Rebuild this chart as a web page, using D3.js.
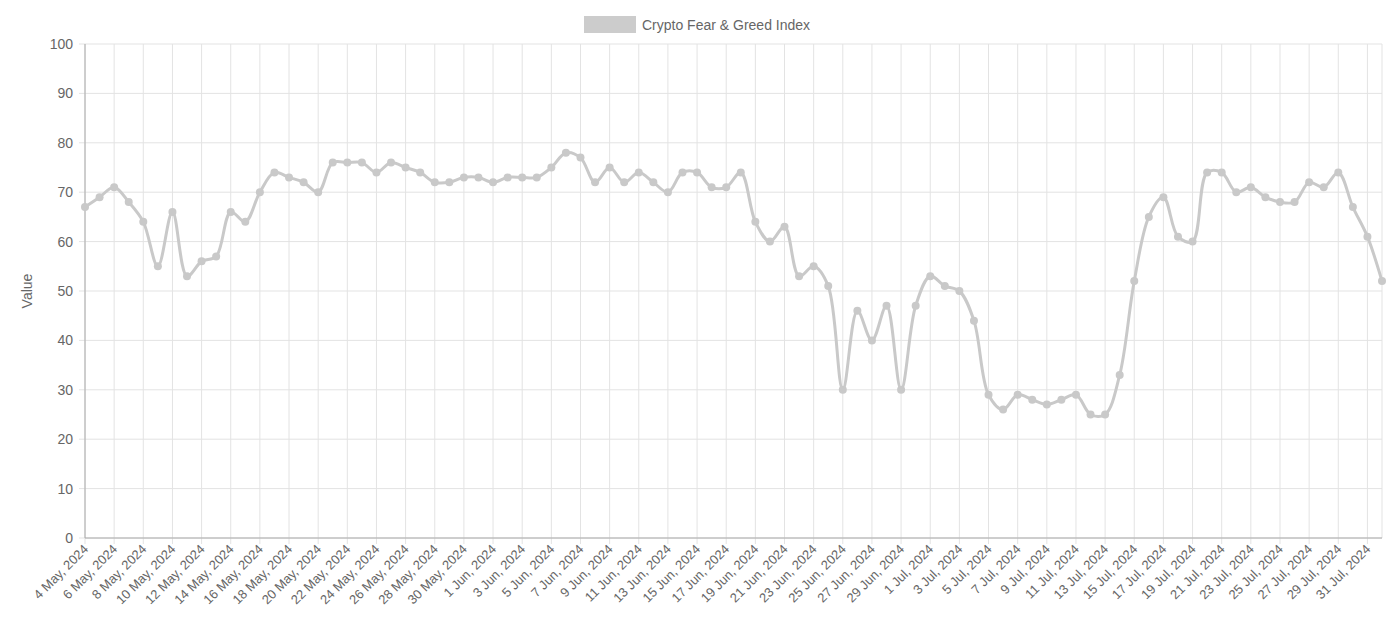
<!DOCTYPE html><html><head><meta charset="utf-8"><script src="https://cdn.jsdelivr.net/npm/d3@7"></script>
<style>body{margin:0;background:#fff;font-family:"Liberation Sans",Arial,sans-serif}</style></head><body><svg id="c" width="1400" height="637"></svg>
<script>
const startDate = "2024-05-04";
const values = [67,69,71,68,64,55,66,53,56,57,66,64,70,74,73,72,70,76,76,76,74,76,75,74,72,72,73,73,
72,73,73,73,75,78,77,72,75,72,74,72,70,74,74,71,71,74,64,60,63,53,55,51,30,46,40,47,30,47,
53,51,50,44,29,26,29,28,27,28,29,25,25,33,52,65,69,61,60,74,74,70,71,69,68,68,72,71,74,67,61,52];
const yTicks = [0,10,20,30,40,50,60,70,80,90,100];
const seriesName = "Crypto Fear & Greed Index";
const months=["Jan","Feb","Mar","Apr","May","Jun","Jul","Aug","Sep","Oct","Nov","Dec"];
const d0=new Date(startDate+"T00:00:00Z");
const labels=values.map((v,i)=>{const d=new Date(d0.getTime()+i*864e5);return d.getUTCDate()+" "+months[d.getUTCMonth()]+", "+d.getUTCFullYear();});
const svg=d3.select("#c");
const L=85,R=1382,T=44,B=538;
const x=d3.scaleLinear().domain([0,values.length-1]).range([L,R]);
const y=d3.scaleLinear().domain([0,100]).range([B,T]);
const g=svg.append("g");
yTicks.forEach(t=>{g.append("line").attr("x1",L-6).attr("x2",R).attr("y1",y(t)).attr("y2",y(t)).attr("stroke","#e3e3e3");
 g.append("text").attr("x",L-12).attr("y",y(t)).attr("dy","0.35em").attr("text-anchor","end").attr("font-size",14).attr("fill","#666").text(t);});
labels.forEach((l,i)=>{if(i%2)return;
 g.append("line").attr("x1",x(i)).attr("x2",x(i)).attr("y1",T).attr("y2",B+6).attr("stroke","#e3e3e3");
 g.append("text").attr("transform",`translate(${x(i)+4},${B+12}) rotate(-45)`).attr("text-anchor","end").attr("font-size",13).attr("fill","#666").text(l);});
g.append("line").attr("x1",R).attr("x2",R).attr("y1",T).attr("y2",B).attr("stroke","#e3e3e3");
g.append("line").attr("x1",L).attr("x2",L).attr("y1",T).attr("y2",B).attr("stroke","#aaa");
g.append("line").attr("x1",L).attr("x2",R).attr("y1",B).attr("y2",B).attr("stroke","#aaa");
svg.append("text").attr("transform",`translate(32,${(T+B)/2}) rotate(-90)`).attr("text-anchor","middle").attr("font-size",14).attr("fill","#666").text("Value");
const line=d3.line().x((d,i)=>x(i)).y(d=>y(d)).curve(d3.curveCatmullRom.alpha(0.5));
svg.append("path").datum(values).attr("d",line).attr("fill","none").attr("stroke","#c9c9c9").attr("stroke-width",3);
svg.selectAll("circle").data(values).join("circle").attr("cx",(d,i)=>x(i)).attr("cy",d=>y(d)).attr("r",4).attr("fill","#c9c9c9");
svg.append("rect").attr("x",584).attr("y",16).attr("width",52).attr("height",17).attr("fill","#cccccc");
svg.append("text").attr("x",642).attr("y",25).attr("dy","0.35em").attr("font-size",14).attr("fill","#666").text(seriesName);
</script></body></html>
